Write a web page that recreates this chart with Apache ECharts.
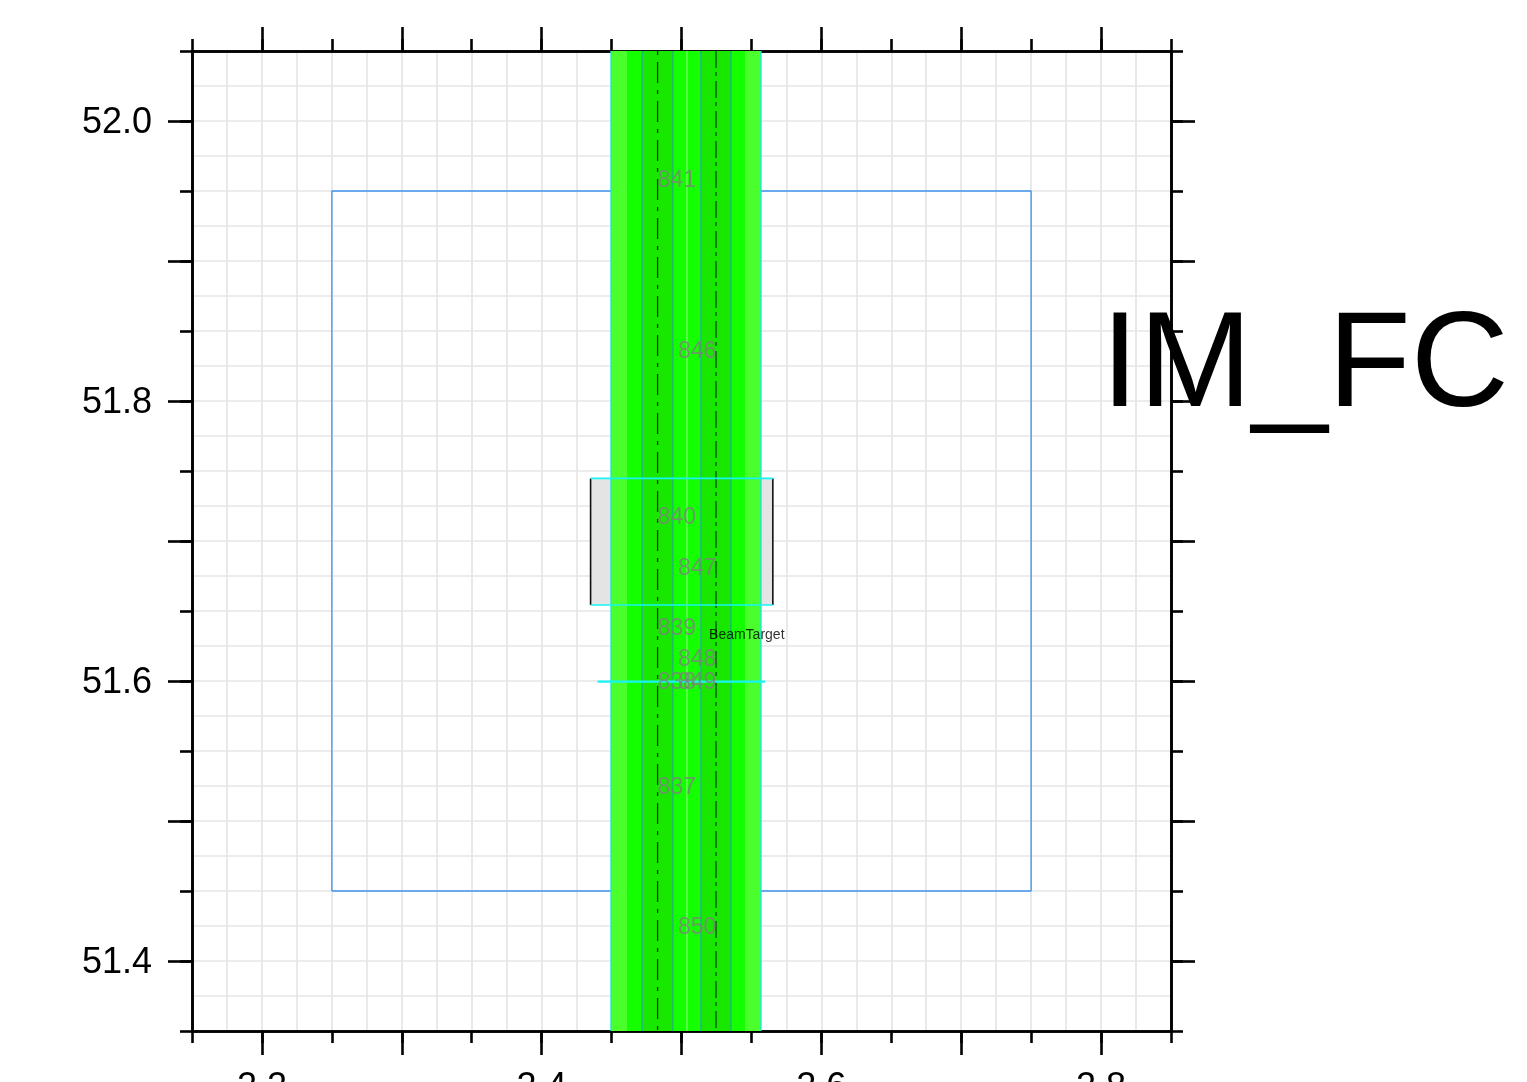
<!DOCTYPE html>
<html><head><meta charset="utf-8">
<style>html,body{margin:0;padding:0;background:#fff;overflow:hidden}#c{width:1527px;height:1082px}</style>
<script src="https://cdn.jsdelivr.net/npm/echarts@6/dist/echarts.min.js"></script>
</head><body><div id="c"></div>
<script>
const xMajorTicks=[2.2,2.3,2.4,2.5,2.6,2.7,2.8];
const xLabels=[2.2,2.4,2.6,2.8];
const yMajorTicks=[51.4,51.5,51.6,51.7,51.8,51.9,52.0];
const yLabels=[51.4,51.6,51.8,52.0];
const fieldSquare=[[2.25,51.45],[2.75,51.45],[2.75,51.95],[2.25,51.95],[2.25,51.45]];
const targetBox=[2.435,2.5653,51.6543,51.7447];
const targetEdges=[[2.435,51.6543],[2.435,51.7447]];
const targetEdgesR=[[2.5653,51.6543],[2.5653,51.7447]];
const cyanTop=[[2.435,51.7447],[2.5653,51.7447]];
const cyanBottom=[[2.435,51.6543],[2.5653,51.6543]];
const cyanMid=[[2.44,51.5995],[2.5597,51.5995]];
const bandEdges=[2.4496,2.461,2.4718,2.4939,2.5039,2.5139,2.5354,2.5454,2.5568];
const bandColors=['#4bff2c','#14ff00','#18e800','#14ff00','#14ff00','#18e800','#14ff00','#4bff2c'];
const tealLines=[2.4718,2.4939,2.5139,2.5354];
const cyanEdges=[2.4496,2.5568];
const paleLine=[2.5039];
const dashLines=[2.4829,2.5247];
const stationNames=['841','846','840','847','839','848','838','849','837','850'];
const stationX=[2.4829,2.4975,2.4829,2.4975,2.4829,2.4975,2.4829,2.4975,2.4829,2.4975];
const stationY=[51.9575,51.8355,51.7165,51.6805,51.6375,51.6155,51.599,51.599,51.5235,51.4235];
const beamLabel=[[2.5197,51.6325,'BeamTarget']];

const vline=(x,color,width,type)=>({type:'line',showSymbol:false,silent:true,animation:false,z:5,
  data:[[x,52.05],[x,51.35]],lineStyle:{color,width,type:type||'solid',cap:'butt'}});
const seg=(data,color,width,z)=>({type:'line',showSymbol:false,silent:true,animation:false,z:z||5,data,lineStyle:{color,width}});

const bandData=bandColors.map((c,i)=>[bandEdges[i],bandEdges[i+1],c]);
const axisLine={show:true,onZero:false,lineStyle:{color:'#000',width:2.6}};
function ax(pos,extra,isX){
  const o=Object.assign({type:'value',position:pos,
    min:isX?2.15:51.35,max:isX?2.85:52.05,
    axisLine:{...axisLine},axisLabel:{show:false},axisTick:{show:false},splitLine:{show:false},silent:true},extra);
  return o;
}
const tickS=(len)=>({show:true,length:len,inside:false,lineStyle:{color:'#000',width:2.6}});
const tickV=(len,vals)=>({show:true,length:len,inside:false,customValues:vals,lineStyle:{color:'#000',width:2.6}});
const lab=(vals,margin,extra)=>Object.assign({show:true,customValues:vals,margin,fontSize:36,color:'#000',fontFamily:'Liberation Sans',formatter:v=>(+v).toFixed(1)},extra||{});
const gridStyle={show:true,lineStyle:{color:'#e6e6e6',width:1.7}};

const option={
  animation:false,
  backgroundColor:'#fff',
  title:{text:'IM_FC',left:1096,top:295,z:20,textStyle:{fontSize:136,fontWeight:'normal',color:'#000',fontFamily:'Liberation Sans'}},
  grid:{left:192,top:51,width:979,height:980,containLabel:false,outerBoundsMode:'none'},
  xAxis:[
    ax('bottom',{interval:0.05,axisTick:tickS(12)},true),
    ax('bottom',{interval:0.1,axisTick:tickV(24,xMajorTicks),axisLabel:lab(xLabels,39)},true),
    ax('top',{interval:0.05,axisTick:tickS(12)},true),
    ax('top',{interval:0.1,axisTick:tickV(24,xMajorTicks)},true),
    ax('bottom',{interval:0.025,splitLine:gridStyle,axisLine:{show:false},z:0},true)
  ],
  yAxis:[
    ax('left',{interval:0.05,axisTick:tickS(12)},false),
    ax('left',{interval:0.1,axisTick:tickV(24,yMajorTicks),axisLabel:lab(yLabels,40,{verticalAlign:'top',lineHeight:4})},false),
    ax('right',{interval:0.05,axisTick:tickS(12)},false),
    ax('right',{interval:0.1,axisTick:tickV(24,yMajorTicks)},false),
    ax('left',{interval:0.025,splitLine:gridStyle,axisLine:{show:false},z:0},false)
  ],
  series:[
    seg(fieldSquare,'#3f93ea',1.3,2),
    {type:'custom',silent:true,animation:false,z:3,data:[targetBox],
     renderItem:(p,api)=>{const a=api.coord([api.value(0),api.value(3)]),b=api.coord([api.value(1),api.value(2)]);
       return {type:'rect',shape:{x:a[0],y:a[1],width:b[0]-a[0],height:b[1]-a[1]},style:{fill:'#e4e4e4'}};},
     encode:{x:[0,1],y:[2,3]}},
    seg(targetEdges,'#111',1.6,3),seg(targetEdgesR,'#111',1.6,3),
    {type:'custom',silent:true,animation:false,z:4,data:bandData,
     renderItem:(p,api)=>{const a=api.coord([api.value(0),52.05]),b=api.coord([api.value(1),51.35]);
       return {type:'rect',shape:{x:a[0],y:a[1],width:b[0]-a[0],height:b[1]-a[1]},style:{fill:bandData[p.dataIndex][2]}};},
     encode:{x:[0,1]}},
    ...tealLines.map(x=>vline(x,'#1fa3a8',1.1)),
    ...cyanEdges.map(x=>vline(x,'#18e8d8',1.4)),
    ...paleLine.map(x=>vline(x,'#7aff6a',1.2)),
    vline(dashLines[0],'#063006',1.3,[4,7,21,7]),
    vline(dashLines[1],'#0a6a05',1.6,[17,4,4,5]),
    seg(cyanTop,'#18f4f4',1.7,6),seg(cyanBottom,'#18f4f4',1.7,6),seg(cyanMid,'#18f4f4',2.2,6),
    {type:'scatter',symbolSize:0,silent:true,animation:false,z:7,
     data:stationNames.map((n,i)=>[stationX[i],stationY[i],n]),
     label:{show:true,position:'right',distance:0,formatter:p=>p.value[2],fontSize:23,color:'#808080',fontFamily:'Liberation Sans'},
     labelLayout:{hideOverlap:false}},
    {type:'scatter',symbolSize:0,silent:true,animation:false,z:8,data:beamLabel,
     label:{show:true,position:'right',distance:0,formatter:p=>p.value[2],fontSize:14,color:'#000',fontFamily:'Liberation Sans'}}
  ]
};
echarts.init(document.getElementById('c'),null,{renderer:'canvas'}).setOption(option);
</script></body></html>
